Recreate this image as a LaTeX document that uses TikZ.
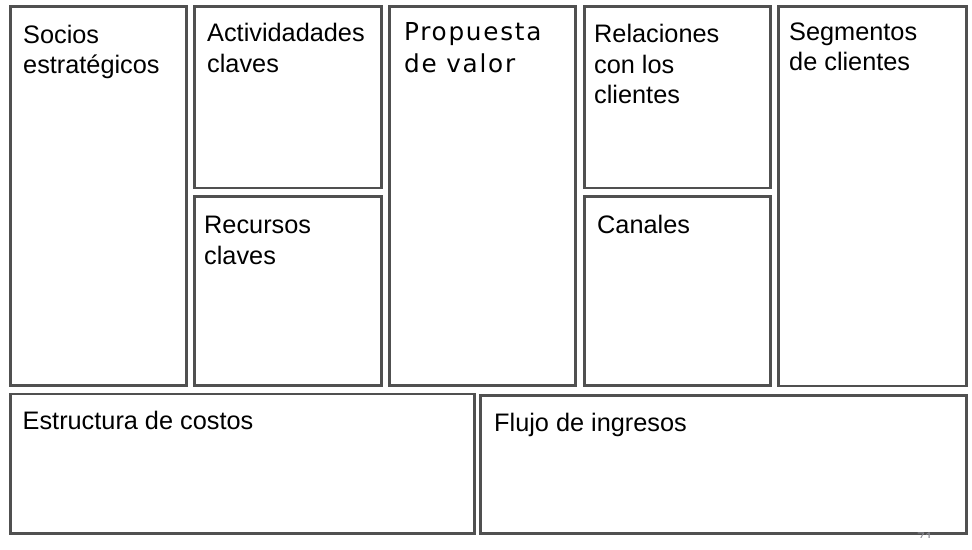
\documentclass[tikz,border=0pt]{standalone}
\usepackage{fontspec}
\setmainfont{Liberation Sans}
\newfontfamily\pvfont[LetterSpace=7]{DejaVu Sans}
\definecolor{boxgray}{RGB}{80,80,80}
\definecolor{pagegray}{RGB}{140,140,150}
\newcommand\lbltab[1]{\begin{tabular}[t]{@{}l@{}}#1\end{tabular}}
\begin{document}
\begin{tikzpicture}[x=1pt,y=-1pt,
  box/.style={draw=boxgray, line width=2.8pt, inner sep=0pt, anchor=north west, fill=none},
  lbl/.style={anchor=base west, inner sep=0pt, font=\fontsize{25.3}{30.8}\selectfont},
  pvlbl/.style={anchor=base west, inner sep=0pt, font=\pvfont\fontsize{24.7}{32.7}\selectfont}]
\useasboundingbox (0,0) rectangle (972,549);
% boxes
\node[box, minimum width=176pt, minimum height=379pt] (socios) at (9,5) {};
\node[box, minimum width=187pt, minimum height=181.5pt] (actividades) at (193.3,5) {};
\node[box, minimum width=187pt, minimum height=189.5pt] (recursos) at (193.3,194.7) {};
\node[box, minimum width=185.7pt, minimum height=379.5pt] (propuesta) at (388.3,4.8) {};
\node[box, minimum width=185.8pt, minimum height=181.5pt] (relaciones) at (582.9,5) {};
\node[box, minimum width=186.4pt, minimum height=189.5pt] (canales) at (582.9,194.7) {};
\node[box, minimum width=188pt, minimum height=379.5pt] (segmentos) at (777,5) {};
\node[box, minimum width=464.3pt, minimum height=139.8pt] (estructura) at (9,392.5) {};
\node[box, minimum width=486.5pt, minimum height=138.5pt] (flujo) at (478.7,393.8) {};
% labels
\node[lbl] (tsocios) at (23,43) {\lbltab{Socios\\estratégicos}};
\node[lbl] (tactividades) at (207,41.7) {\lbltab{Actividadades\\claves}};
\node[pvlbl] (tpropuesta) at (404,40) {\lbltab{Propuesta\\de valor}};
\node[lbl] (trelaciones) at (594,42.3) {\lbltab{Relaciones\\con los\\clientes}};
\node[lbl, font=\fontsize{25.3}{30}\selectfont] (tsegmentos) at (789,40) {\lbltab{Segmentos\\de clientes}};
\node[lbl] (trecursos) at (204,233.3) {\lbltab{Recursos\\claves}};
\node[lbl] (tcanales) at (597,233) {Canales};
\node[lbl] (testructura) at (22.5,429.5) {Estructura de costos};
\node[lbl] (tflujo) at (494,431.5) {Flujo de ingresos};
% page number, only its top is visible
\begin{scope}
\clip (900,530) rectangle (950,537.5);
\node[anchor=north, inner sep=0pt, text=pagegray, font=\fontsize{14}{16}\selectfont] (pagenum) at (925,533) {71};
\end{scope}
\end{tikzpicture}
\end{document}
